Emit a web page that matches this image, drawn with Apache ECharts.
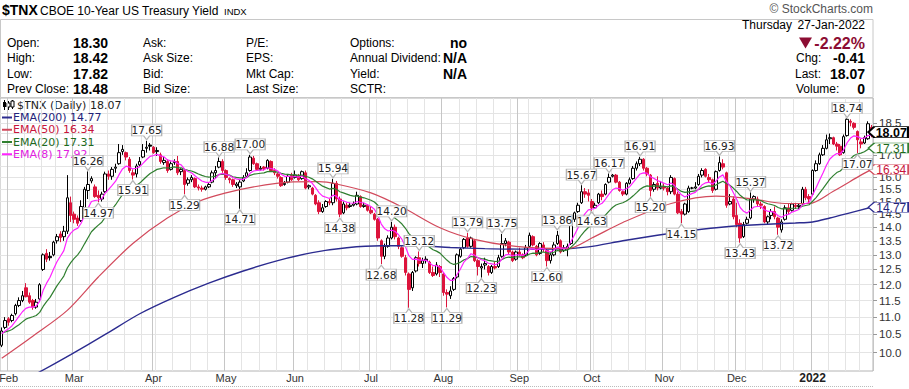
<!DOCTYPE html>
<html><head><meta charset="utf-8">
<script src="https://cdn.jsdelivr.net/npm/echarts@6/dist/echarts.min.js"></script>
<style>html,body{margin:0;padding:0;background:#fff}#c{width:909px;height:389px}</style>
</head><body><div id="c"></div>
<script>
// ---- trading days shown (Jan 28 2021 .. Jan 27 2022)
const monthDays = [
 ['2021-01',[28,29]],
 ['2021-02',[1,2,3,4,5,8,9,10,11,12,16,17,18,19,22,23,24,25,26]],
 ['2021-03',[1,2,3,4,5,8,9,10,11,12,15,16,17,18,19,22,23,24,25,26,29,30,31]],
 ['2021-04',[1,5,6,7,8,9,12,13,14,15,16,19,20,21,22,23,26,27,28,29,30]],
 ['2021-05',[3,4,5,6,7,10,11,12,13,14,17,18,19,20,21,24,25,26,27,28]],
 ['2021-06',[1,2,3,4,7,8,9,10,11,14,15,16,17,18,21,22,23,24,25,28,29,30]],
 ['2021-07',[1,2,6,7,8,9,12,13,14,15,16,19,20,21,22,23,26,27,28,29,30]],
 ['2021-08',[2,3,4,5,6,9,10,11,12,13,16,17,18,19,20,23,24,25,26,27,30,31]],
 ['2021-09',[1,2,3,7,8,9,10,13,14,15,16,17,20,21,22,23,24,27,28,29,30]],
 ['2021-10',[1,4,5,6,7,8,11,12,13,14,15,18,19,20,21,22,25,26,27,28,29]],
 ['2021-11',[1,2,3,4,5,8,9,10,11,12,15,16,17,18,19,22,23,24,26,29,30]],
 ['2021-12',[1,2,3,6,7,8,9,10,13,14,15,16,17,20,21,22,23,27,28,29,30,31]],
 ['2022-01',[3,4,5,6,7,10,11,12,13,14,18,19,20,21,24,25,26,27]]
];
const monthAbbr = ['Jan','Feb','Mar','Apr','May','Jun','Jul','Aug','Sep','Oct','Nov','Dec'];
const yTicks = [10.0,10.5,11.0,11.5,12.0,12.5,13.0,13.5,14.0,14.5,15.0,15.5,16.0,16.5,17.0,17.5,18.0,18.5,19.0];
// labels hidden behind the value tags in the reference are not printed
const yLabelValues = [10.0,10.5,11.0,11.5,12.0,12.5,13.0,13.5,14.0,14.5,15.0,15.5,16.0,17.0,18.5,19.0];

// ---- OHLC
const opens = [
10.2,10.7,10.95,10.9,11.1,11.35,11.5,11.9,11.65,11.5,
11.3,11.55,12.5,13.05,12.95,13.0,13.5,13.75,13.65,13.85,
14.95,14.5,14.35,14.25,14.75,15.45,15.85,15.6,15.25,15.1,
15.4,16.15,16.05,16.4,16.6,17.15,17.1,16.8,16.2,16.15,
16.55,16.9,17.3,17.45,17.35,17.15,17.0,16.65,16.7,16.35,
16.65,16.7,16.25,16.3,15.75,15.9,15.95,15.6,15.55,15.5,
15.6,15.8,16.2,16.45,16.7,16.3,15.95,15.9,15.65,15.6,
15.85,16.05,16.3,16.85,16.6,16.35,16.45,16.4,16.7,16.3,
16.15,16.0,15.7,15.8,16.1,16.0,16.05,15.95,16.2,15.6,
15.55,15.25,14.95,14.6,14.8,15.0,14.95,15.75,15.1,14.55,
14.85,14.8,14.85,14.9,15.2,14.8,14.85,14.65,14.5,14.3,
13.5,12.95,13.3,13.6,14.0,13.6,13.25,12.9,12.35,11.9,
12.45,12.9,12.7,12.85,12.75,12.4,12.35,12.6,12.35,11.75,
11.65,11.85,12.25,12.95,13.25,13.6,13.3,13.5,12.8,12.55,
12.65,12.6,12.4,12.6,12.6,12.95,13.4,13.45,13.1,12.85,
13.1,13.0,13.0,13.3,13.65,13.3,13.05,13.35,13.15,12.8,
13.0,13.4,13.5,13.15,13.2,13.4,14.3,14.6,14.95,15.4,
15.35,15.0,14.75,14.95,15.3,15.3,15.8,16.05,16.1,15.8,
15.4,15.3,15.75,15.95,16.4,16.6,16.8,16.4,16.1,15.5,
15.75,15.55,15.6,15.55,15.4,15.95,15.3,14.6,14.5,14.6,
15.55,15.55,15.7,16.1,16.35,16.0,15.9,15.5,16.3,16.6,
16.2,14.9,15.1,14.45,14.15,13.65,14.15,14.35,15.1,15.1,
14.9,14.8,14.2,14.45,14.6,14.35,13.9,14.3,14.75,14.65,
14.85,14.8,14.9,15.5,15.2,15.3,16.3,16.6,17.0,17.3,
17.75,17.8,17.5,17.4,17.1,17.9,18.6,18.5,18.1,17.6,
17.55,17.75,18.30];
const highs = [
10.7,11.0,11.0,11.1,11.4,11.6,11.8,12.05,11.75,11.55,
11.55,12.05,13.05,13.2,13.1,13.5,13.75,13.85,14.05,16.1,
15.2,14.6,14.45,15.05,15.6,16.26,16.05,15.7,15.45,15.4,
16.25,16.3,16.45,16.6,17.5,17.45,17.15,16.9,16.35,16.6,
16.9,17.5,17.65,17.55,17.4,17.35,17.1,16.9,16.8,16.7,
16.8,16.95,16.4,16.35,16.0,16.1,16.0,15.7,15.65,15.65,
15.8,16.3,16.5,16.88,16.8,16.35,16.0,15.95,15.8,15.9,
16.1,16.4,17.0,16.95,16.65,16.5,16.5,16.8,16.75,16.4,
16.2,16.05,15.85,16.15,16.2,16.3,16.15,16.3,16.3,15.7,
15.6,15.3,15.05,14.9,15.05,15.1,15.94,15.85,15.2,15.0,
14.95,14.95,15.0,15.4,15.25,14.95,14.9,14.8,14.55,14.35,
13.55,13.4,13.7,14.2,14.1,13.65,13.3,13.0,12.4,12.45,
12.95,13.12,12.9,12.95,12.8,12.6,12.75,12.65,12.4,11.85,
11.95,12.25,13.05,13.25,13.6,13.79,13.65,13.55,12.85,12.7,
12.9,12.65,12.65,12.75,13.0,13.75,13.6,13.5,13.15,13.15,
13.25,13.05,13.35,13.8,13.7,13.35,13.45,13.45,13.2,13.1,
13.45,13.86,13.55,13.35,13.4,14.4,14.6,14.95,15.67,15.55,
15.5,15.1,14.95,15.35,15.45,15.75,16.17,16.15,16.15,15.85,
15.45,15.8,16.0,16.5,16.7,16.91,16.85,16.45,16.15,15.8,
16.05,15.85,15.75,15.6,16.1,16.0,15.4,14.7,14.95,15.65,
15.6,15.8,16.15,16.4,16.4,16.15,15.95,16.3,16.93,16.8,
16.25,15.3,15.2,14.95,14.3,14.2,14.4,15.37,15.25,15.2,
15.0,14.85,14.45,14.7,14.8,14.4,14.3,14.85,14.9,14.95,
14.95,14.9,15.6,15.6,15.3,16.35,16.75,17.1,17.45,17.95,
18.0,17.85,17.6,17.5,17.95,18.74,18.7,18.55,18.15,17.75,
17.9,18.6,18.42];
const lows = [
10.15,10.65,10.75,10.85,11.05,11.3,11.45,11.6,11.4,11.22,
11.25,11.5,12.45,12.75,12.8,12.95,13.4,13.45,13.5,13.75,
14.2,14.15,14.05,14.2,14.65,15.1,15.75,15.15,14.97,15.0,
15.35,15.9,15.9,16.2,16.55,17.0,16.75,16.2,15.91,16.0,
16.45,16.85,17.1,17.2,17.05,16.95,16.6,16.55,16.2,16.3,
16.55,16.1,16.1,15.29,15.65,15.8,15.55,15.45,15.4,15.45,
15.55,15.75,15.95,16.4,16.2,15.9,15.75,15.6,15.55,14.71,
15.8,16.0,16.25,16.55,16.3,16.3,16.3,16.35,16.25,16.1,
15.95,15.6,15.65,15.75,15.85,15.95,15.85,15.9,15.5,15.5,
15.25,14.85,14.5,14.55,14.75,14.85,14.85,15.0,14.38,14.5,
14.65,14.75,14.8,14.85,14.75,14.75,14.6,14.5,14.25,13.5,
12.68,12.85,13.25,13.55,13.55,13.2,12.9,12.3,11.28,11.8,
12.4,12.6,12.55,12.7,12.35,12.25,12.3,12.25,11.65,11.29,
11.55,11.8,12.2,12.9,13.2,13.25,13.25,12.75,12.3,12.23,
12.5,12.3,12.35,12.5,12.55,12.9,13.3,13.0,12.75,12.8,
12.95,12.85,12.95,13.25,13.3,12.95,13.0,13.1,12.6,12.7,
12.95,13.35,13.05,13.1,12.95,13.35,14.2,14.55,14.9,15.15,
15.0,14.63,14.7,14.9,15.05,15.25,15.75,16.0,15.75,15.4,
15.22,15.25,15.7,15.9,16.3,16.5,16.3,16.05,15.2,15.4,
15.45,15.5,15.45,15.25,15.3,15.25,14.5,14.15,14.45,14.55,
15.5,15.5,15.65,16.0,16.0,15.8,15.35,15.45,16.25,16.35,
14.75,14.85,14.3,14.0,13.43,13.6,14.1,14.3,14.95,14.8,
14.7,14.15,14.1,14.3,14.3,13.72,13.8,14.25,14.5,14.6,
14.7,14.7,14.85,15.05,14.95,15.25,16.25,16.55,16.95,17.25,
17.5,17.45,17.2,16.95,17.05,17.85,18.35,18.2,17.07,17.3,
17.5,17.7,17.82];
const closes = [
10.6,10.9,10.85,11.05,11.35,11.5,11.65,11.62,11.45,11.3,
11.45,12.0,13.0,12.85,12.9,13.45,13.65,13.62,13.85,15.15,
14.45,14.3,14.15,14.8,15.5,15.7,15.95,15.2,15.15,15.3,
16.15,16.05,16.35,16.45,17.1,17.25,16.9,16.3,16.1,16.5,
16.7,17.2,17.35,17.4,17.1,17.2,16.7,16.75,16.3,16.6,
16.7,16.2,16.35,15.7,15.9,16.0,15.6,15.55,15.5,15.6,
15.7,16.2,16.3,16.7,16.3,16.0,15.9,15.7,15.72,15.8,
16.0,16.2,16.9,16.6,16.35,16.4,16.38,16.75,16.3,16.2,
16.05,15.65,15.75,16.05,15.9,16.1,15.9,16.25,15.55,15.65,
15.3,14.9,14.6,14.75,15.0,14.95,15.75,15.1,14.5,14.9,
14.75,14.85,14.9,15.25,14.8,14.85,14.65,14.55,14.3,13.6,
12.95,13.3,13.6,14.0,13.65,13.3,12.95,12.4,11.85,12.4,
12.9,12.7,12.8,12.8,12.4,12.3,12.65,12.4,11.75,11.7,
11.8,12.2,13.0,13.2,13.55,13.3,13.6,12.8,12.6,12.6,
12.7,12.4,12.6,12.55,12.9,13.4,13.5,13.1,12.8,13.1,
13.0,12.9,13.25,13.7,13.35,13.0,13.4,13.2,12.8,13.0,
13.35,13.7,13.1,13.25,13.3,14.3,14.55,14.85,15.4,15.3,
15.25,14.75,14.85,15.3,15.2,15.7,16.0,16.1,15.8,15.45,
15.3,15.75,15.9,16.4,16.6,16.8,16.4,16.15,15.45,15.7,
15.55,15.6,15.55,15.4,16.0,15.3,14.55,14.5,14.9,15.55,
15.55,15.6,16.05,16.3,16.05,15.9,15.45,16.25,16.65,16.45,
14.85,15.0,14.4,14.1,13.6,14.1,14.3,15.1,15.2,14.9,
14.85,14.2,14.4,14.6,14.4,14.0,14.2,14.75,14.6,14.9,
14.8,14.85,15.5,15.15,15.1,16.3,16.6,17.0,17.3,17.7,
17.8,17.5,17.4,17.0,17.85,18.7,18.55,18.3,17.7,17.5,
17.8,18.48,18.07];

// ---- moving averages
const ema8 = [
10.52,10.60,10.66,10.75,10.88,11.02,11.16,11.26,11.30,11.30,
11.33,11.48,11.82,12.05,12.24,12.51,12.76,12.95,13.15,13.59,
13.78,13.90,13.96,14.15,14.45,14.73,15.00,15.04,15.06,15.11,
15.34,15.50,15.66,15.84,16.12,16.37,16.49,16.45,16.37,16.40,
16.47,16.63,16.79,16.93,16.97,17.02,16.95,16.91,16.77,16.73,
16.72,16.61,16.55,16.36,16.26,16.20,16.07,15.95,15.85,15.80,
15.78,15.87,15.97,16.13,16.17,16.13,16.08,16.00,15.94,15.91,
15.93,15.99,16.19,16.28,16.30,16.32,16.33,16.42,16.39,16.35,
16.28,16.14,16.05,16.05,16.02,16.04,16.01,16.06,15.95,15.88,
15.75,15.56,15.35,15.22,15.17,15.12,15.26,15.22,15.06,15.03,
14.97,14.94,14.93,15.00,14.96,14.94,14.87,14.80,14.69,14.45,
14.12,13.94,13.86,13.89,13.84,13.72,13.55,13.29,12.97,12.84,
12.85,12.82,12.82,12.81,12.72,12.63,12.63,12.58,12.40,12.24,
12.14,12.15,12.34,12.53,12.76,12.88,13.04,12.99,12.90,12.83,
12.80,12.71,12.69,12.66,12.71,12.86,13.00,13.02,12.97,13.00,
13.00,12.98,13.04,13.19,13.22,13.17,13.22,13.22,13.13,13.10,
13.16,13.28,13.24,13.24,13.25,13.48,13.72,13.97,14.29,14.51,
14.67,14.69,14.73,14.86,14.93,15.10,15.30,15.48,15.55,15.53,
15.46,15.52,15.61,15.79,15.97,16.15,16.20,16.19,16.03,15.96,
15.87,15.81,15.75,15.69,15.76,15.66,15.42,15.27,15.18,15.26,
15.32,15.37,15.52,15.69,15.77,15.80,15.72,15.84,16.02,16.11,
15.83,15.65,15.37,15.09,14.76,14.61,14.54,14.66,14.78,14.80,
14.80,14.67,14.61,14.61,14.56,14.44,14.38,14.46,14.49,14.58,
14.63,14.68,14.86,14.92,14.96,15.26,15.56,15.88,16.19,16.53,
16.81,16.96,17.06,17.05,17.23,17.56,17.78,17.89,17.85,17.77,
17.78,17.90,17.92];
const ema20 = [
10.54,10.57,10.60,10.64,10.71,10.78,10.86,10.94,10.98,11.01,
11.05,11.14,11.32,11.47,11.60,11.78,11.96,12.12,12.28,12.55,
12.73,12.88,13.00,13.17,13.39,13.61,13.83,13.96,14.08,14.19,
14.38,14.54,14.70,14.87,15.08,15.28,15.43,15.51,15.57,15.66,
15.76,15.90,16.04,16.17,16.26,16.35,16.38,16.42,16.41,16.43,
16.46,16.43,16.42,16.35,16.31,16.28,16.22,16.15,16.09,16.04,
16.01,16.03,16.06,16.12,16.14,16.12,16.10,16.03,16.00,15.98,
15.98,16.00,16.09,16.14,16.16,16.18,16.20,16.25,16.26,16.25,
16.23,16.18,16.14,16.13,16.11,16.11,16.09,16.10,16.05,16.01,
15.94,15.84,15.73,15.63,15.57,15.51,15.54,15.50,15.40,15.35,
15.30,15.25,15.22,15.22,15.18,15.15,15.10,15.05,14.98,14.85,
14.67,14.54,14.45,14.41,14.34,14.24,14.12,13.96,13.76,13.63,
13.56,13.48,13.42,13.36,13.27,13.18,13.13,13.06,12.94,12.82,
12.72,12.67,12.70,12.75,12.83,12.87,12.94,12.93,12.90,12.87,
12.85,12.81,12.79,12.77,12.78,12.84,12.90,12.92,12.91,12.93,
12.93,12.93,12.96,13.03,13.06,13.05,13.09,13.10,13.07,13.06,
13.09,13.15,13.14,13.15,13.17,13.27,13.39,13.53,13.71,13.86,
13.99,14.06,14.14,14.25,14.34,14.47,14.62,14.76,14.86,14.91,
14.95,15.02,15.11,15.23,15.36,15.50,15.59,15.64,15.62,15.64,
15.63,15.63,15.62,15.60,15.64,15.60,15.50,15.41,15.37,15.39,
15.41,15.43,15.49,15.56,15.61,15.64,15.62,15.68,15.77,15.84,
15.74,15.67,15.55,15.41,15.25,15.14,15.06,15.06,15.07,15.06,
15.04,14.96,14.91,14.88,14.84,14.76,14.71,14.72,14.71,14.73,
14.73,14.74,14.81,14.84,14.87,15.01,15.16,15.34,15.53,15.73,
15.93,16.08,16.21,16.28,16.43,16.65,16.83,16.97,17.04,17.08,
17.14,17.25,17.31];
const ema50Pts = [[0,9.85],[9,10.45],[19,11.2],[28,12.25],[38,13.4],[48,14.35],[57,15.0],[65,15.35],[73,15.6],[83,15.8],[92,15.82],[97,15.72],[107,15.35],[116,14.78],[127,13.98],[137,13.55],[149,13.3],[164,13.22],[171,13.6],[180,14.18],[194,14.92],[207,15.22],[217,15.12],[227,14.92],[234,14.92],[241,15.42],[249,16.1],[252,16.34]];
const ema200Pts = [[0,9.0],[10,9.45],[20,9.95],[30,10.5],[40,11.1],[50,11.6],[60,12.05],[70,12.45],[80,12.8],[90,13.08],[100,13.25],[110,13.32],[120,13.32],[130,13.26],[140,13.22],[150,13.2],[160,13.2],[170,13.28],[180,13.5],[190,13.7],[200,13.88],[210,14.02],[220,14.1],[230,14.16],[235,14.2],[240,14.35],[245,14.52],[252,14.77]];

// ---- swing high / low labels printed on the chart
const annHigh = [[25,16.26],[42,17.65],[63,16.88],[72,17.00],[96,15.94],[113,14.20],[121,13.12],[135,13.79],[145,13.75],[161,13.86],[168,15.67],[176,16.17],[185,16.91],[208,16.93],[217,15.37],[245,18.74]];
const annLow = [[28,14.97],[38,15.91],[53,15.29],[69,14.71],[98,14.38],[110,12.68],[118,11.28],[129,11.29],[139,12.23],[158,12.60],[171,14.63],[188,15.20],[197,14.15],[214,13.43],[225,13.72],[248,17.07]];

// ---------------------------------------------------------------
const dates = [];
monthDays.forEach(([ym, ds]) => ds.forEach(d => dates.push(ym + '-' + String(d).padStart(2,'0'))));
const N = dates.length, last = N - 1;
const dayNum = dates.map(d => Date.parse(d + 'T00:00:00Z') / 86400000);
const dow = dates.map(d => new Date(d + 'T00:00:00Z').getUTCDay());
const isMonthStart = dates.map((d,i) => i > 0 && d.slice(0,7) !== dates[i-1].slice(0,7));
const isWeekStart = dates.map((d,i) => i > 0 && (dow[i] <= dow[i-1] || dayNum[i] - dayNum[i-1] >= 7));

const RED = '#dc143c';
const candleData = dates.map((d,i) => {
  const o = opens[i], c = closes[i];
  const prev = i > 0 ? closes[i-1] : o;
  const col = c >= prev ? '#000000' : RED;
  const fill = c > o ? '#ffffff' : col;
  return {value:[o, c, lows[i], highs[i]], itemStyle:{color:fill, color0:fill, borderColor:col, borderColor0:col, borderColorDoji:col}};
});

const C200 = '#2b2b8f', C50 = '#d24a5c', C20 = '#2f7f2f', C8 = '#ff22ff';
const T200 = '#22227a', T50 = '#c8143c', T20 = '#1d6b1d', T8 = '#e020e0';

const highPath = 'path://M0,0H30V11H18L15,15L12,11H0Z';
const lowPath  = 'path://M0,4H12L15,0L18,4H30V15H0Z';
const tagPath  = 'path://M0,5L6,0H40V10H6Z';

function tag(val, border, textColor, bold) {
  return {coord:[dates[last], val], value: val, symbol: tagPath, symbolSize:[40, bold ? 11 : 10], symbolOffset:[17,0],
    itemStyle:{color:'#fff', borderColor: border, borderWidth: bold ? 1.5 : 1},
    label:{show:true, position:'inside', offset:[3,0.5], formatter: p => p.value.toFixed(2), lineHeight: bold ? 11 : 10,
      color: textColor, fontSize: bold ? 12.5 : 12, fontWeight: bold ? 'bold' : 'normal', fontFamily:'Liberation Sans'}};
}

const annData = [];
annHigh.forEach(([i,v]) => annData.push({coord:[dates[i], v], value:v, symbol:highPath, symbolSize:[30,15], symbolOffset:[0,-8.5], label:{offset:[0,-2]}}));
annLow.forEach(([i,v]) => annData.push({coord:[dates[i], v], value:v, symbol:lowPath, symbolSize:[30,15], symbolOffset:[0,8.5], label:{offset:[0,2]}}));
annData.push(tag(closes[last], '#000', '#000', true));

const pointsOn = pts => pts.map(([i,v]) => [dates[i], v]);
const ema50Last = ema50Pts[ema50Pts.length-1][1];
const ema200Last = ema200Pts[ema200Pts.length-1][1];
const lastVals = {'EMA(200)': ema200Last, 'EMA(50)': ema50Last, 'EMA(20)': ema20[last], 'EMA(8)': ema8[last]};

// header values
const prevClose = closes[last-1];
const chg = closes[last] - prevClose;
const pct = chg / prevClose * 100;
const F = '"Liberation Sans", Arial, sans-serif';
function txt(x, y, s, font, fill, align) {
  return {type:'text', x:x, y:y, silent:true, style:{text:s, font:font, fill:fill||'#000', align:align||'left', verticalAlign:'middle'}};
}
const rowsY = [42.7, 58.3, 74, 89.3];
const L12 = '12px ' + F, B14 = 'bold 14px ' + F;
const graphics = [
  txt(2, 10, '$TNX', 'bold 14px ' + F, '#000'),
  txt(40, 10.5, 'CBOE 10-Year US Treasury Yield', '12px ' + F, '#000'),
  txt(224, 11, 'INDX', '9.5px ' + F, '#000'),
  txt(873, 9, '\u00A9 StockCharts.com', '12px ' + F, '#555', 'right'),
  {type:'rect', silent:true, shape:{x:0.5, y:19.5, width:872.5, height:78}, style:{fill:'none', stroke:'#c8c8c8', lineWidth:1}},
  txt(7, rowsY[0], 'Open:', L12), txt(73, rowsY[0], opens[last].toFixed(2), B14),
  txt(7, rowsY[1], 'High:', L12), txt(73, rowsY[1], highs[last].toFixed(2), B14),
  txt(7, rowsY[2], 'Low:', L12), txt(73, rowsY[2], lows[last].toFixed(2), B14),
  txt(7, rowsY[3], 'Prev Close:', L12), txt(73, rowsY[3], prevClose.toFixed(2), B14),
  txt(143, rowsY[0], 'Ask:', L12), txt(143, rowsY[1], 'Ask Size:', L12),
  txt(143, rowsY[2], 'Bid:', L12), txt(143, rowsY[3], 'Bid Size:', L12),
  txt(246, rowsY[0], 'P/E:', L12), txt(246, rowsY[1], 'EPS:', L12),
  txt(246, rowsY[2], 'Mkt Cap:', L12), txt(246, rowsY[3], 'Last Size:', L12),
  txt(350, rowsY[0], 'Options:', L12), txt(467, rowsY[0], 'no', B14, '#000', 'right'),
  txt(350, rowsY[1], 'Annual Dividend:', L12), txt(467, rowsY[1], 'N/A', B14, '#000', 'right'),
  txt(350, rowsY[2], 'Yield:', L12), txt(467, rowsY[2], 'N/A', B14, '#000', 'right'),
  txt(350, rowsY[3], 'SCTR:', L12),
  txt(792, 25, 'Thursday', L12, '#000', 'right'),
  txt(865, 25, '27-Jan-2022', L12, '#000', 'right'),
  {type:'polygon', silent:true, shape:{points:[[799,37.5],[812,37.5],[805.5,48.5]]}, style:{fill:'#8c0d33'}},
  txt(865, 43.3, pct.toFixed(2) + '%', 'bold 16px ' + F, '#8c0d33', 'right'),
  txt(796, 58.3, 'Chg:', L12), txt(865, 58.3, chg.toFixed(2), B14, '#000', 'right'),
  txt(795, 74, 'Last:', L12), txt(865, 74, closes[last].toFixed(2), B14, '#000', 'right'),
  txt(796, 89.3, 'Volume:', L12), txt(865, 89.3, '0', B14, '#000', 'right'),
  // legend candle glyph + price line
  {type:'group', silent:true, children:[
    {type:'line', shape:{x1:4.5,y1:100,x2:4.5,y2:110}, style:{stroke:'#000', lineWidth:1}},
    {type:'rect', shape:{x:3,y:102,width:3,height:5}, style:{fill:'#000'}},
    {type:'line', shape:{x1:8.5,y1:101,x2:8.5,y2:110}, style:{stroke:'#000', lineWidth:1}},
    {type:'rect', shape:{x:7,y:103,width:3,height:4}, style:{fill:'#fff', stroke:'#000', lineWidth:1}},
    {type:'line', shape:{x1:12.5,y1:100,x2:12.5,y2:109}, style:{stroke:'#000', lineWidth:1}},
    {type:'rect', shape:{x:11,y:101,width:3,height:6}, style:{fill:'#fff', stroke:'#000', lineWidth:1}}
  ]},
  txt(17, 105, '$TNX (Daily) ' + closes[last].toFixed(2), '11px "DejaVu Sans", sans-serif', '#222'),
  {type:'line', silent:true, shape:{x1:0, y1:386.5, x2:873, y2:386.5}, style:{stroke:'#bbb', lineWidth:1, lineDash:[1,1]}}
];

const chart = echarts.init(document.getElementById('c'), null, {renderer:'svg', width:909, height:389});
chart.setOption({
  animation:false,
  backgroundColor:'#fff',
  grid:{left:0, right:36, top:98, bottom:18, show:true, borderColor:'#b4b4b4', borderWidth:1, backgroundColor:'transparent', containLabel:false, outerBoundsMode:'none'},
  legend:{
    orient:'vertical', left:2, top:111.5, itemWidth:10, itemHeight:2, itemGap:0.25, icon:'rect', selectedMode:false,
    padding:0,
    textStyle:{fontFamily:'"DejaVu Sans", sans-serif', fontSize:11, lineHeight:12, padding:[0,0,0,-4]},
    formatter: name => name + ' ' + lastVals[name].toFixed(2),
    data:[
      {name:'EMA(200)', textStyle:{color:T200}},
      {name:'EMA(50)', textStyle:{color:T50}},
      {name:'EMA(20)', textStyle:{color:T20}},
      {name:'EMA(8)', textStyle:{color:T8}}
    ]
  },
  xAxis:[{
    type:'category', data:dates, boundaryGap:true,
    axisLine:{show:false}, axisTick:{show:false},
    axisLabel:{interval:(i) => isMonthStart[i], margin:1, fontSize:11, color:'#333',
      fontFamily:'"Liberation Sans Narrow", "Liberation Sans", Arial, sans-serif',
      formatter:(v) => { const m = +v.slice(5,7); return m === 1 ? '{b|' + v.slice(0,4) + '}' : monthAbbr[m-1]; },
      rich:{b:{fontWeight:'bold', fontSize:12, color:'#222', fontFamily:'"Liberation Sans", Arial, sans-serif'}}},
    splitLine:{show:true, interval:(i) => isWeekStart[i], lineStyle:{color:'#e4e4e4', width:1}}
  },{
    type:'category', data:dates, boundaryGap:true, position:'bottom',
    axisLine:{show:false}, axisTick:{show:false}, axisLabel:{show:false},
    splitLine:{show:true, interval:(i) => isMonthStart[i], lineStyle:{color:'#c6c6c6', width:1}}
  }],
  yAxis:{
    type:'log', logBase:10, min:9.52, max:19.8, position:'right',
    axisLine:{show:false},
    axisTick:{show:true, length:4, customValues:yTicks, lineStyle:{color:'#999'}},
    axisLabel:{customValues:yLabelValues, formatter:(v) => Number(v).toFixed(1), margin:6, fontSize:11.5, color:'#333', fontFamily:F},
    splitLine:{show:true, lineStyle:{color:'#e4e4e4', width:1}},
    minorTick:{show:false}, minorSplitLine:{show:false}
  },
  series:[
    {name:'$TNX', type:'candlestick', data:candleData, barWidth:3, z:2,
     itemStyle:{borderWidth:1}, emphasis:{disabled:true},
     markPoint:{z:6, silent:true, data:annData,
       itemStyle:{color:'#fff', borderColor:'#b4b4b4', borderWidth:1},
       label:{show:true, position:'inside', formatter:(p) => p.value.toFixed(2), fontSize:10.5, color:'#222', fontFamily:'"DejaVu Sans", sans-serif'}}},
    {name:'EMA(200)', type:'line', data:pointsOn(ema200Pts), smooth:0.3, showSymbol:false, symbol:'none', z:3,
     lineStyle:{color:C200, width:1.4}, itemStyle:{color:C200},
     markPoint:{z:5, silent:true, data:[tag(ema200Last, C200, T200, false)]}},
    {name:'EMA(50)', type:'line', data:pointsOn(ema50Pts), smooth:0.3, showSymbol:false, symbol:'none', z:3,
     lineStyle:{color:C50, width:1.2}, itemStyle:{color:C50},
     markPoint:{z:5, silent:true, data:[tag(ema50Last, C50, T50, false)]}},
    {name:'EMA(20)', type:'line', data:ema20, showSymbol:false, symbol:'none', z:3,
     lineStyle:{color:C20, width:1.2}, itemStyle:{color:C20},
     markPoint:{z:5, silent:true, data:[tag(ema20[last], C20, T20, false)]}},
    {name:'EMA(8)', type:'line', data:ema8, showSymbol:false, symbol:'none', z:3,
     lineStyle:{color:C8, width:1.2}, itemStyle:{color:C8}}
  ],
  graphic:graphics
});
</script>
</body></html>
